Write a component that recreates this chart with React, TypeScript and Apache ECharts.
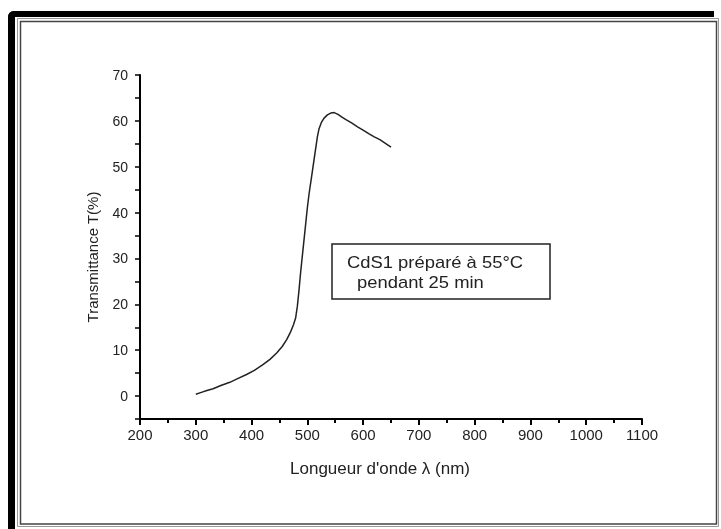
import React, { useEffect, useRef } from "react";
import * as echarts from "echarts";

const wavelengths = [
  300, 310, 320, 331, 345, 361, 375, 391, 405, 421, 433, 445, 455, 463, 470,
  475, 479, 482, 485, 488, 491, 494, 497, 500, 503, 506, 509, 512, 515, 518,
  521, 525, 530, 536, 542, 548, 555, 562, 570, 580, 590, 600, 610, 620, 630,
  640, 650,
];
const transmittance = [
  0.4, 0.8, 1.2, 1.6, 2.3, 3.0, 3.8, 4.7, 5.6, 6.9, 8.0, 9.4, 10.8, 12.3, 14.0,
  15.5, 17.0, 19.5, 23.0, 27.0, 30.5, 34.0, 37.5, 41.0, 44.0, 46.5, 49.0, 51.5,
  54.0, 56.5, 58.3, 59.6, 60.6, 61.3, 61.7, 61.8, 61.4, 60.8, 60.2, 59.5, 58.7,
  58.0, 57.2, 56.5, 55.9, 55.1, 54.3,
];
const xTitle = "Longueur d'onde λ (nm)";
const yTitle = "Transmittance T(%)";
const legendLines = ["CdS1 préparé à 55°C", "pendant 25 min"];

const FONT = "'Liberation Sans', Arial, sans-serif";

export default function App() {
  const ref = useRef<HTMLDivElement>(null);
  useEffect(() => {
    if (!ref.current) return;
    const chart = echarts.init(ref.current, null, { renderer: "svg" });
    const data = wavelengths.map((w, i) => [w, transmittance[i]]);
    chart.setOption({
      animation: false,
      grid: { left: 140, right: 79, top: 75, bottom: 110 },
      xAxis: {
        type: "value",
        min: 200,
        max: 1100,
        interval: 100,
        name: xTitle,
        nameLocation: "middle",
        nameGap: 41,
        nameTextStyle: { fontFamily: FONT, fontSize: 17, color: "#222", padding: [0, 22, 0, 0] },
        axisLine: { show: true, onZero: false, lineStyle: { color: "#000", width: 2 } },
        axisTick: { show: true, inside: false, length: 6, lineStyle: { color: "#000", width: 2 } },
        minorTick: { show: true, splitNumber: 2, length: 4, lineStyle: { color: "#000", width: 2 } },
        axisLabel: { fontFamily: FONT, fontSize: 15, color: "#222", margin: 8, formatter: (v: number) => String(v) },
        splitLine: { show: false },
        minorSplitLine: { show: false },
      },
      yAxis: {
        type: "value",
        min: -5,
        max: 70,
        interval: 5,
        name: yTitle,
        nameLocation: "middle",
        nameGap: 40,
        nameRotate: 90,
        nameTextStyle: { fontFamily: FONT, fontSize: 15, color: "#222", padding: [0, 20, 0, 0] },
        axisLine: { show: true, onZero: false, lineStyle: { color: "#000", width: 2 } },
        axisTick: { show: true, inside: false, length: 5, lineStyle: { color: "#000", width: 1.5 } },
        axisLabel: {
          fontFamily: FONT,
          fontSize: 14,
          color: "#222",
          margin: 12,
          formatter: (v: number) => (v >= 0 && Math.round(v) % 10 === 0 ? String(Math.round(v)) : ""),
        },
        splitLine: { show: false },
      },
      series: [
        {
          type: "line",
          data,
          showSymbol: false,
          symbol: "none",
          lineStyle: { color: "#222", width: 1.5 },
        },
      ],
      graphic: [
        { type: "rect", shape: { x: 8, y: 11, width: 706, height: 6, r: [6, 0, 0, 0] }, style: { fill: "#000" } },
        { type: "rect", shape: { x: 8, y: 11, width: 7, height: 518, r: [6, 0, 0, 0] }, style: { fill: "#000" } },
        { type: "rect", shape: { x: 17.5, y: 18.5, width: 701, height: 508 }, style: { fill: "transparent", stroke: "#999", lineWidth: 1 } },
        { type: "rect", shape: { x: 20.5, y: 21.5, width: 696, height: 502.5 }, style: { fill: "transparent", stroke: "#444", lineWidth: 1.5 } },
        { type: "rect", shape: { x: 332, y: 244, width: 218, height: 55 }, style: { fill: "#fff", stroke: "#222", lineWidth: 1.5 } },
        {
          type: "text",
          x: 347,
          y: 262.5,
          scaleX: 1.15,
          style: { text: legendLines[0], fontFamily: FONT, fontSize: 16, fill: "#222", verticalAlign: "middle", align: "left" },
        },
        {
          type: "text",
          x: 357,
          y: 282,
          scaleX: 1.15,
          style: { text: legendLines[1], fontFamily: FONT, fontSize: 16, fill: "#222", verticalAlign: "middle", align: "left" },
        },
      ],
    });
    return () => chart.dispose();
  }, []);
  return <div ref={ref} style={{ position: "fixed", left: 0, top: 0, width: 721, height: 529 }} />;
}
